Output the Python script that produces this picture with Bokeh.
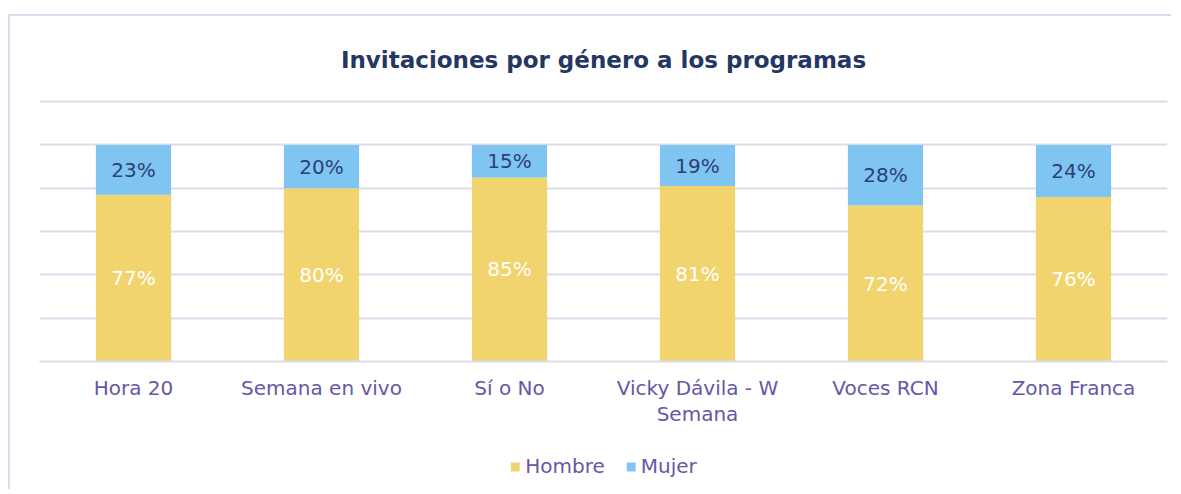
from bokeh.plotting import figure
from bokeh.layouts import column
from bokeh.models import (ColumnDataSource, FixedTicker, Legend, LegendItem,
                          LabelSet)
from bokeh.embed import file_html
from bokeh.resources import INLINE
from bokeh.core.properties import value

# ---- data ----
programas = ["Hora 20", "Semana en vivo", "Sí o No", "Vicky Dávila - W Semana",
             "Voces RCN", "Zona Franca"]
tick_labels = ["Hora 20", "Semana en vivo", "Sí o No", "Vicky Dávila - W\nSemana",
               "Voces RCN", "Zona Franca"]
hombre = [77, 80, 85, 81, 72, 76]
mujer = [23, 20, 15, 19, 28, 24]
series = ["Hombre", "Mujer"]
y_ticks = [0, 20, 40, 60, 80, 100, 120]
title_text = "Invitaciones por género a los programas"

FONT = "DejaVu Sans"
C_H = "#f2d46e"
C_M = "#7ec5f2"
GRID = "#dcdbee"
TXT = "#6658a6"

src = ColumnDataSource(dict(
    programa=tick_labels,
    Hombre=hombre,
    Mujer=mujer,
    h_lbl=[f"{v}%" for v in hombre],
    m_lbl=[f"{v}%" for v in mujer],
    h_y=[h / 2 for h in hombre],
    m_y=[h + m / 2 for h, m in zip(hombre, mujer)],
))

p = figure(x_range=tick_labels, y_range=(0, 121),
           frame_width=1128, frame_height=262,
           output_backend="svg", toolbar_location=None,
           min_border_left=29, min_border_right=4, min_border_top=83,
           min_border_bottom=82)
p.outline_line_color = None

p.title.text = title_text
p.title.align = "center"
p.title.text_font = FONT
p.title.text_font_size = "23px"
p.title.text_font_style = "bold"
p.title.text_color = "#243763"
p.title.standoff = 54

p.vbar_stack(series, x="programa", width=0.4, color=[C_H, C_M],
             line_color=None, source=src)

p.x_range.range_padding = 0
p.yaxis.visible = False
p.yaxis.ticker = FixedTicker(ticks=y_ticks)
p.ygrid.ticker = FixedTicker(ticks=y_ticks)
p.ygrid.grid_line_color = GRID
p.ygrid.grid_line_width = 2
p.xgrid.grid_line_color = None

xa = p.xaxis[0]
xa.axis_line_color = GRID
xa.axis_line_width = 2
xa.major_tick_line_color = None
xa.minor_tick_line_color = None
xa.major_label_text_font = FONT
xa.major_label_text_font_size = "20px"
xa.major_label_text_color = TXT
xa.major_label_text_line_height = 1.1
xa.major_label_standoff = 8

p.add_layout(LabelSet(x="programa", y="h_y", text="h_lbl", source=src,
                      text_align="center", text_baseline="middle",
                      text_font=value(FONT), text_font_size="20px",
                      text_color="white"))
p.add_layout(LabelSet(x="programa", y="m_y", text="m_lbl", source=src,
                      text_align="center", text_baseline="middle",
                      text_font=value(FONT), text_font_size="20px",
                      text_color="#2e3f73"))

# ---- legend strip below the chart ----
pl = figure(x_range=tick_labels, y_range=(500, 501),
            frame_width=1128, frame_height=46,
            output_backend="svg", toolbar_location=None,
            min_border_left=29, min_border_right=4, min_border_top=0,
            min_border_bottom=0)
pl.outline_line_color = None
pl.axis.visible = False
pl.grid.visible = False
rs = pl.vbar_stack(series, x="programa", width=0.4, color=[C_H, C_M],
                   line_color=None, source=src)

legend = Legend(items=[LegendItem(label=s, renderers=[r]) for s, r in zip(series, rs)],
                orientation="horizontal", location="center")
legend.border_line_color = None
legend.background_fill_alpha = 0
legend.label_text_font = FONT
legend.label_text_font_size = "20px"
legend.label_text_color = TXT
legend.glyph_width = 11
legend.glyph_height = 11
legend.label_standoff = 5
legend.spacing = 20
legend.padding = 0
legend.margin = 0
pl.add_layout(legend)

root = column(p, pl, spacing=0)
root.styles = {"margin-left": "8px", "margin-top": "14px",
               "border-left": f"2px solid {GRID}", "border-top": f"2px solid {GRID}"}

open("out.html", "w").write(file_html(root, INLINE))
